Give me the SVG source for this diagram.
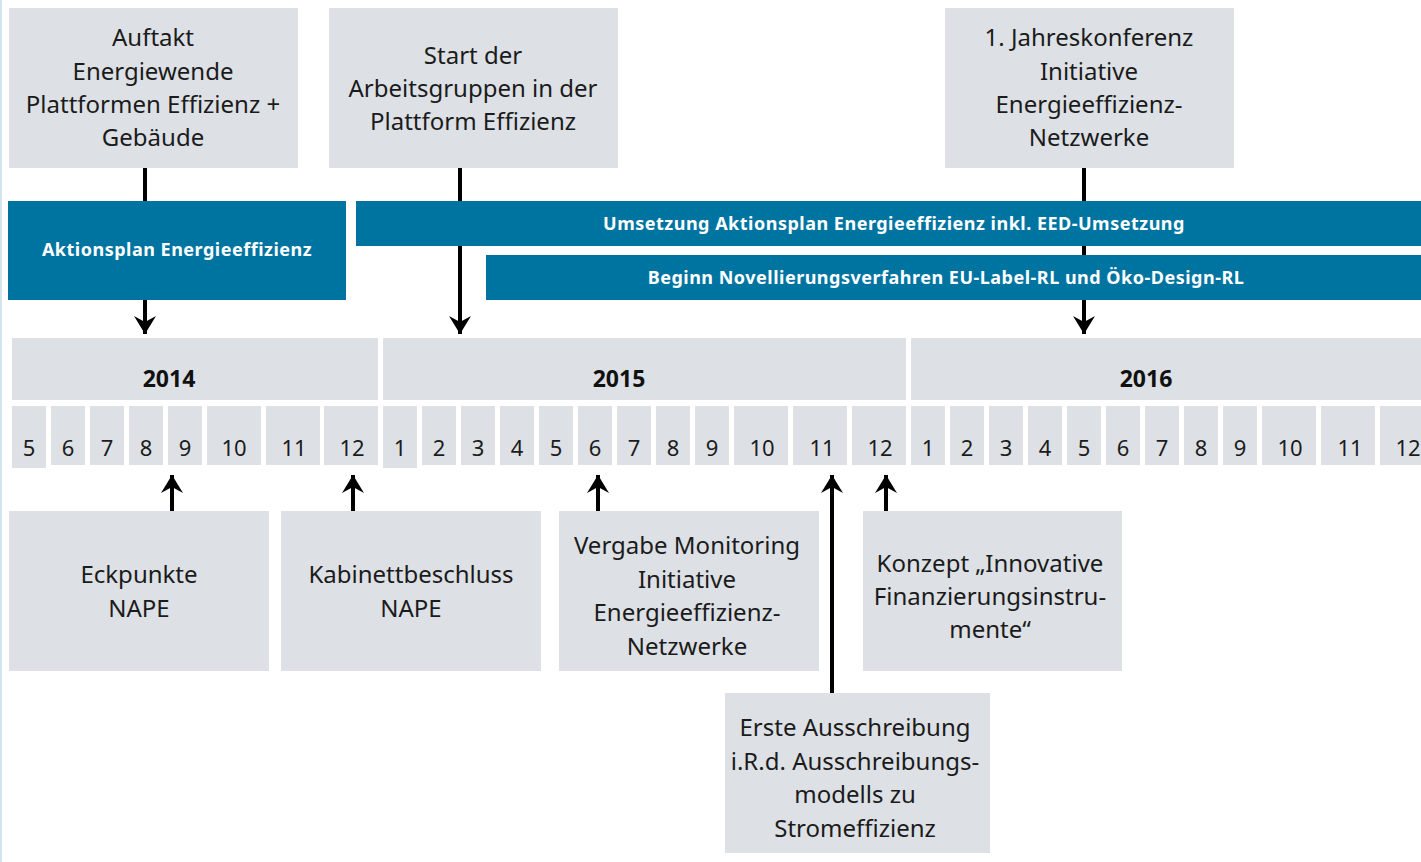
<svg xmlns="http://www.w3.org/2000/svg" width="1421" height="862" viewBox="0 0 1421 862">
<style>
.box{fill:#dde1e5}
.bar{fill:#0074a1}
.t{font-family:"Noto Sans","Liberation Sans",sans-serif;font-size:24px;fill:#1b1b1b;text-anchor:middle}
.m{font-family:"Noto Sans","Liberation Sans",sans-serif;font-size:22px;fill:#1b1b1b;text-anchor:middle}
.y{font-family:"Noto Sans","Liberation Sans",sans-serif;font-size:23px;font-weight:bold;fill:#111;text-anchor:middle}
.bt{font-family:"Noto Sans","Liberation Sans",sans-serif;font-size:18px;font-weight:bold;fill:#ffffff;text-anchor:middle;letter-spacing:0.5px}
.c{stroke:#000;stroke-width:4;fill:none}
</style>
<defs>
<marker id="ah" markerUnits="userSpaceOnUse" markerWidth="24" markerHeight="24" viewBox="-20 -12 22 24" refX="0" refY="0" orient="auto">
<path d="M0,0 L-18,-11 L-12,0 L-18,11 Z" fill="#000"/>
</marker>
</defs>
<rect x="0" y="0" width="2" height="862" fill="#d3e6f0"/>
<g id="connectors">
<path class="c" d="M145,168 V334" marker-end="url(#ah)"/>
<path class="c" d="M460,168 V334" marker-end="url(#ah)"/>
<path class="c" d="M1084,168 V334" marker-end="url(#ah)"/>
<path class="c" d="M172,511 V475" marker-end="url(#ah)"/>
<path class="c" d="M353,511 V475" marker-end="url(#ah)"/>
<path class="c" d="M598,511 V475" marker-end="url(#ah)"/>
<path class="c" d="M832,693 V475" marker-end="url(#ah)"/>
<path class="c" d="M886,511 V475" marker-end="url(#ah)"/>
</g>
<g id="top1"><rect class="box" x="9" y="8" width="289" height="160"/>
<text class="t" x="153" y="46">Auftakt</text><text class="t" x="153" y="80">Energiewende</text><text class="t" x="153" y="113">Plattformen Effizienz +</text><text class="t" x="153" y="146">Gebäude</text></g>
<g id="top2"><rect class="box" x="329" y="8" width="289" height="160"/>
<text class="t" x="473" y="64">Start der</text><text class="t" x="473" y="97">Arbeitsgruppen in der</text><text class="t" x="473" y="130">Plattform Effizienz</text></g>
<g id="top3"><rect class="box" x="945" y="8" width="289" height="160"/>
<text class="t" x="1089" y="46">1. Jahreskonferenz</text><text class="t" x="1089" y="80">Initiative</text><text class="t" x="1089" y="113">Energieeffizienz-</text><text class="t" x="1089" y="146">Netzwerke</text></g>
<g id="bar1"><rect class="bar" x="8" y="201" width="338" height="99"/><text class="bt" x="177" y="256">Aktionsplan Energieeffizienz</text></g>
<g id="bar2"><rect class="bar" x="356" y="201" width="1065" height="45"/><text class="bt" x="894" y="230">Umsetzung Aktionsplan Energieeffizienz inkl. EED-Umsetzung</text></g>
<g id="bar3"><rect class="bar" x="486" y="255" width="935" height="45"/><text class="bt" x="946" y="284">Beginn Novellierungsverfahren EU-Label-RL und Öko-Design-RL</text></g>
<g id="y2014"><rect class="box" x="12" y="338" width="366" height="62"/><text class="y" x="169" y="387">2014</text></g>
<g id="y2015"><rect class="box" x="383" y="338" width="523" height="62"/><text class="y" x="619" y="387">2015</text></g>
<g id="y2016"><rect class="box" x="911" y="338" width="520" height="62"/><text class="y" x="1146" y="387">2016</text></g>
<g id="months">
<rect class="box" x="12" y="406" width="34" height="62"/><text class="m" x="29" y="456">5</text>
<rect class="box" x="51" y="406" width="34" height="59"/><text class="m" x="68" y="456">6</text>
<rect class="box" x="90" y="406" width="34" height="59"/><text class="m" x="107" y="456">7</text>
<rect class="box" x="129" y="406" width="34" height="59"/><text class="m" x="146" y="456">8</text>
<rect class="box" x="168" y="406" width="34" height="59"/><text class="m" x="185" y="456">9</text>
<rect class="box" x="207" y="406" width="54" height="59"/><text class="m" x="234" y="456">10</text>
<rect class="box" x="266" y="406" width="54" height="59"/><text class="m" x="294" y="456">11</text>
<rect class="box" x="324" y="406" width="54" height="59"/><text class="m" x="352" y="456">12</text>
<rect class="box" x="383" y="406" width="34" height="62"/><text class="m" x="400" y="456">1</text>
<rect class="box" x="422" y="406" width="34" height="59"/><text class="m" x="439" y="456">2</text>
<rect class="box" x="461" y="406" width="34" height="59"/><text class="m" x="478" y="456">3</text>
<rect class="box" x="500" y="406" width="34" height="59"/><text class="m" x="517" y="456">4</text>
<rect class="box" x="539" y="406" width="34" height="59"/><text class="m" x="556" y="456">5</text>
<rect class="box" x="578" y="406" width="34" height="59"/><text class="m" x="595" y="456">6</text>
<rect class="box" x="617" y="406" width="34" height="59"/><text class="m" x="634" y="456">7</text>
<rect class="box" x="656" y="406" width="34" height="59"/><text class="m" x="673" y="456">8</text>
<rect class="box" x="695" y="406" width="34" height="59"/><text class="m" x="712" y="456">9</text>
<rect class="box" x="734" y="406" width="54" height="59"/><text class="m" x="762" y="456">10</text>
<rect class="box" x="793" y="406" width="54" height="59"/><text class="m" x="822" y="456">11</text>
<rect class="box" x="852" y="406" width="54" height="59"/><text class="m" x="880" y="456">12</text>
<rect class="box" x="911" y="406" width="34" height="59"/><text class="m" x="928" y="456">1</text>
<rect class="box" x="950" y="406" width="34" height="59"/><text class="m" x="967" y="456">2</text>
<rect class="box" x="989" y="406" width="34" height="59"/><text class="m" x="1006" y="456">3</text>
<rect class="box" x="1028" y="406" width="34" height="59"/><text class="m" x="1045" y="456">4</text>
<rect class="box" x="1067" y="406" width="34" height="59"/><text class="m" x="1084" y="456">5</text>
<rect class="box" x="1106" y="406" width="34" height="59"/><text class="m" x="1123" y="456">6</text>
<rect class="box" x="1145" y="406" width="34" height="59"/><text class="m" x="1162" y="456">7</text>
<rect class="box" x="1184" y="406" width="34" height="59"/><text class="m" x="1201" y="456">8</text>
<rect class="box" x="1223" y="406" width="34" height="59"/><text class="m" x="1240" y="456">9</text>
<rect class="box" x="1262" y="406" width="54" height="59"/><text class="m" x="1290" y="456">10</text>
<rect class="box" x="1321" y="406" width="54" height="59"/><text class="m" x="1350" y="456">11</text>
<rect class="box" x="1380" y="406" width="54" height="59"/><text class="m" x="1408" y="456">12</text>
</g>
<g id="bot1"><rect class="box" x="9" y="511" width="260" height="160"/><text class="t" x="139" y="583">Eckpunkte</text><text class="t" x="139" y="617">NAPE</text></g>
<g id="bot2"><rect class="box" x="281" y="511" width="260" height="160"/><text class="t" x="411" y="583">Kabinettbeschluss</text><text class="t" x="411" y="617">NAPE</text></g>
<g id="bot3"><rect class="box" x="559" y="511" width="260" height="160"/><text class="t" x="687" y="554">Vergabe Monitoring</text><text class="t" x="687" y="588">Initiative</text><text class="t" x="687" y="621">Energieeffizienz-</text><text class="t" x="687" y="655">Netzwerke</text></g>
<g id="bot4"><rect class="box" x="863" y="511" width="259" height="160"/><text class="t" x="990" y="572">Konzept „Innovative</text><text class="t" x="990" y="605">Finanzierungsinstru-</text><text class="t" x="990" y="638">mente“</text></g>
<g id="bot5"><rect class="box" x="725" y="693" width="265" height="160"/><text class="t" x="855" y="736">Erste Ausschreibung</text><text class="t" x="855" y="770">i.R.d. Ausschreibungs-</text><text class="t" x="855" y="803">modells zu</text><text class="t" x="855" y="837">Stromeffizienz</text></g>
</svg>
